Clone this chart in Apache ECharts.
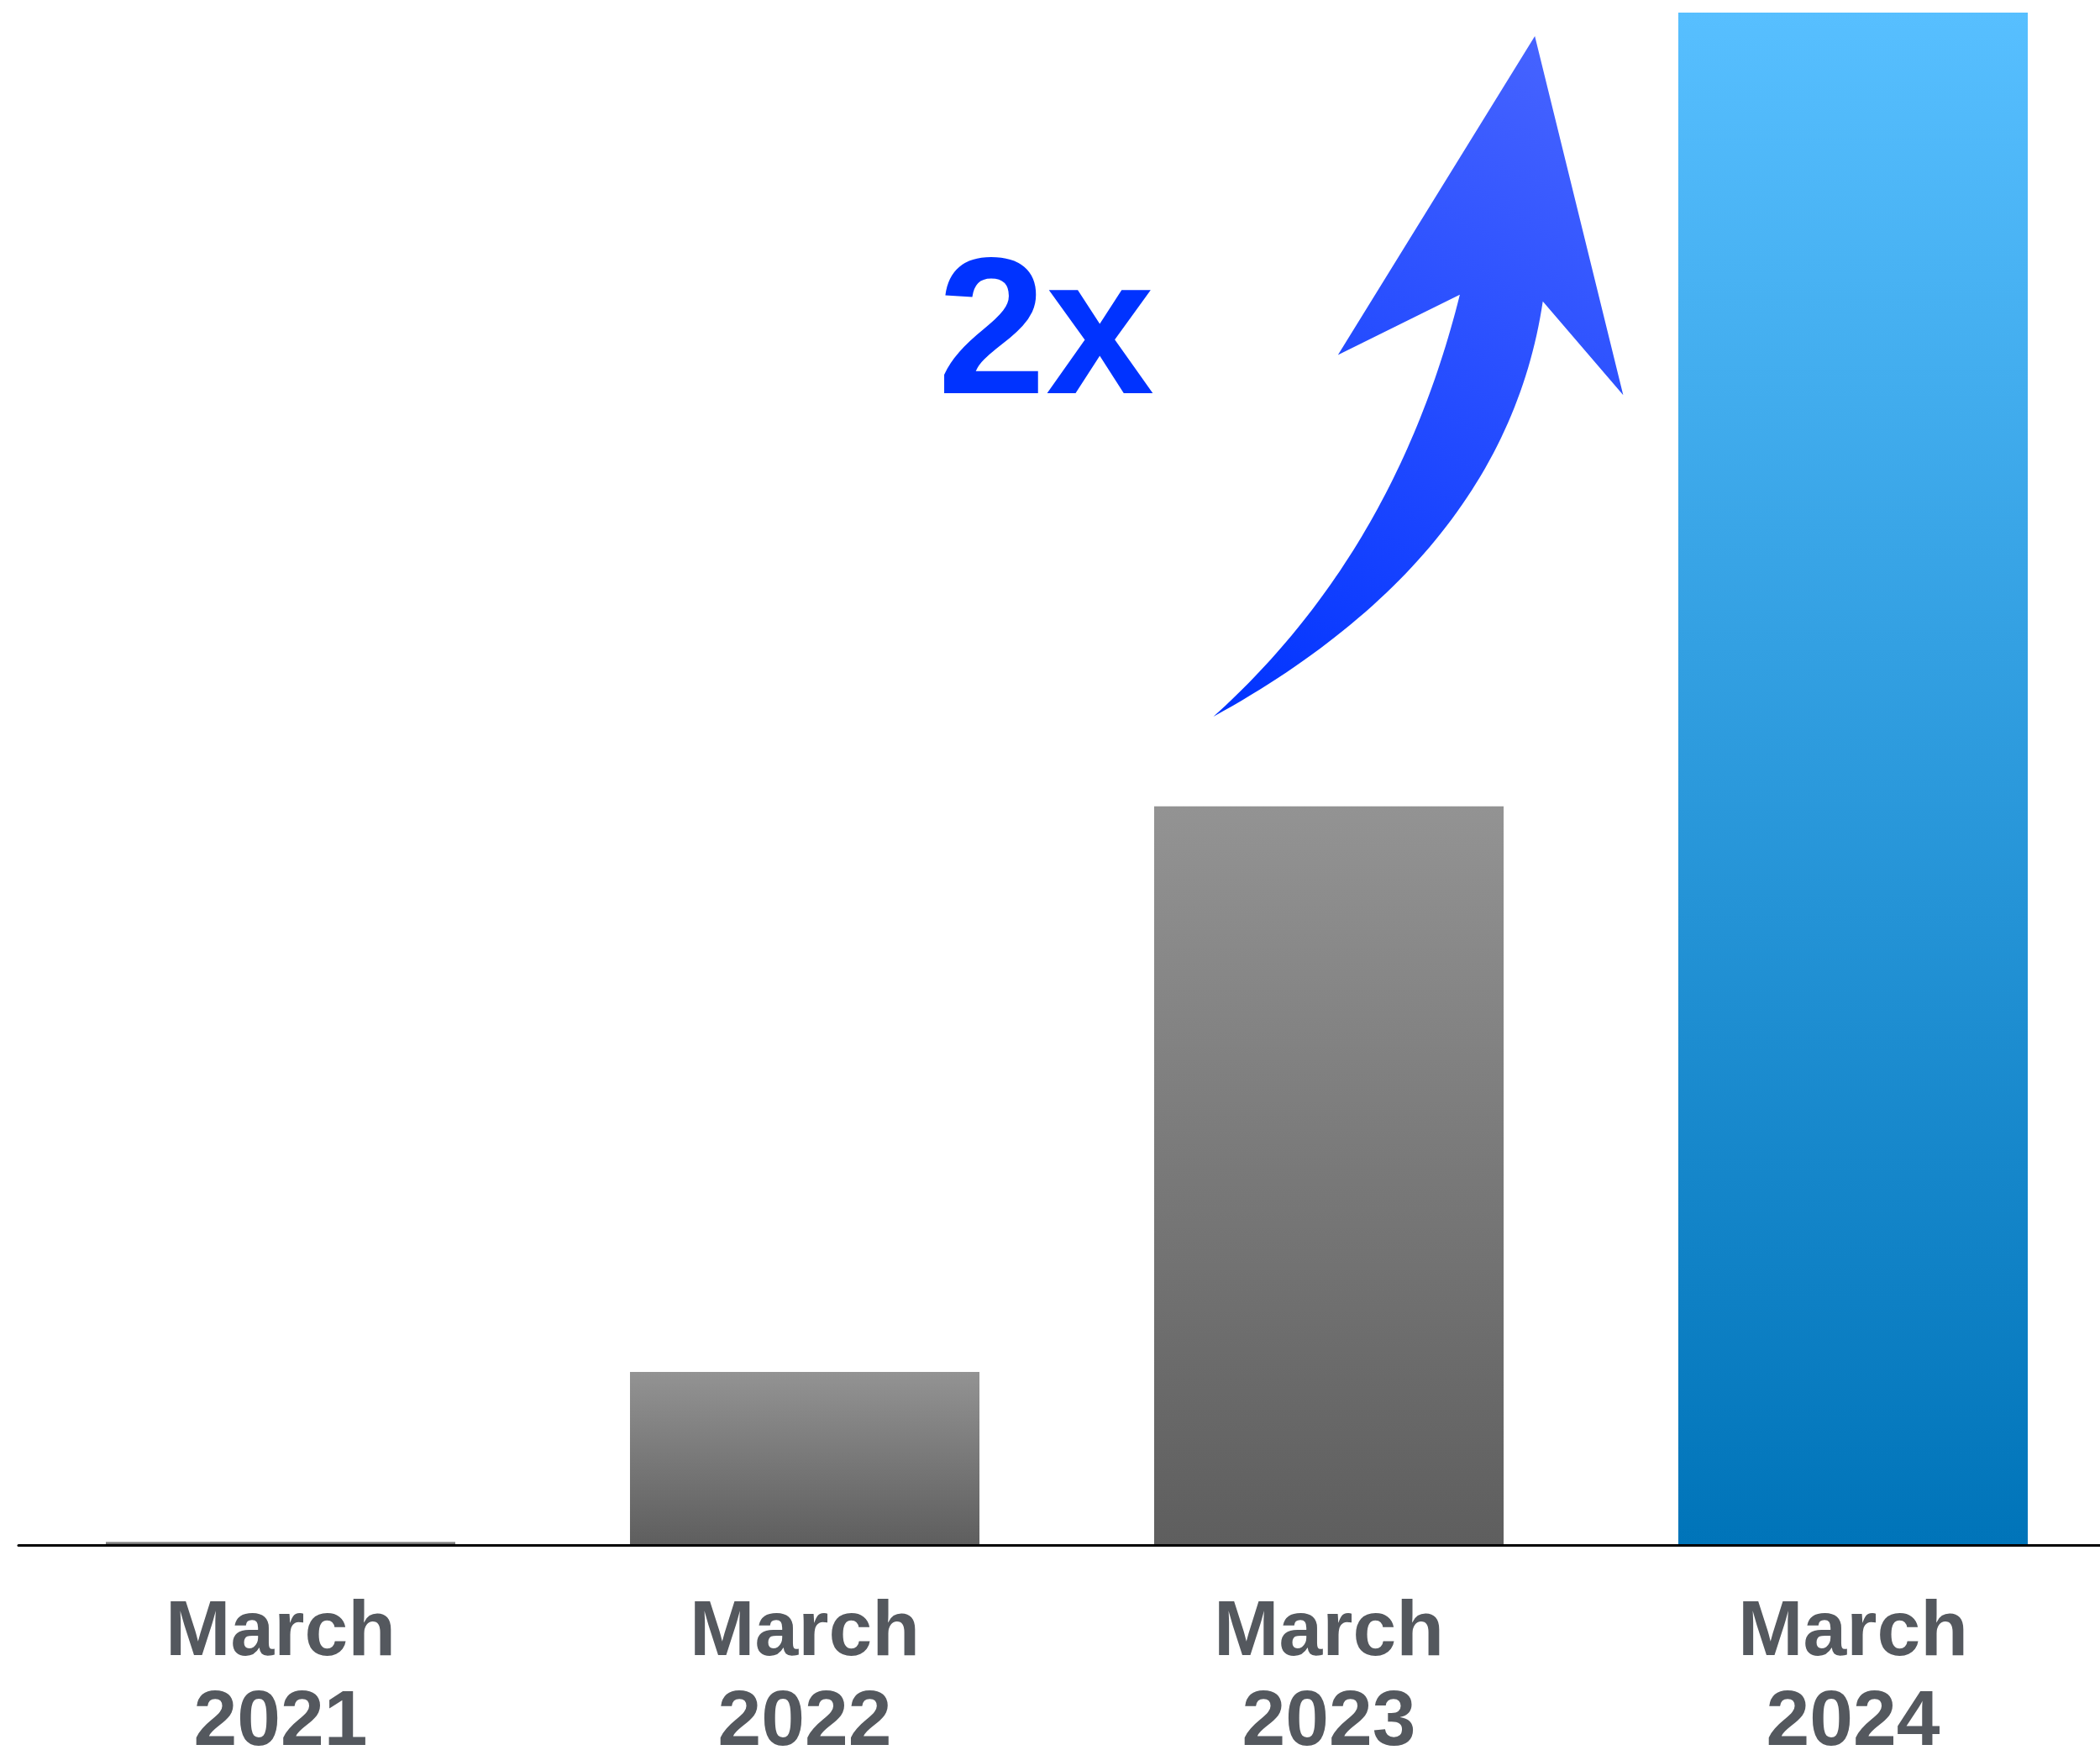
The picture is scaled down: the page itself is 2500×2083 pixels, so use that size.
<!DOCTYPE html>
<html>
<head>
<meta charset="utf-8">
<script src="https://cdn.jsdelivr.net/npm/echarts@6/dist/echarts.min.js"></script>
<style>
  html, body { margin: 0; padding: 0; background: #ffffff; overflow: hidden; }
  #chart { width: 2500px; height: 2083px; }
</style>
</head>
<body>
<div id="chart"></div>
<script>
// ---- data ----
const months = ['March', 'March', 'March', 'March'];
const years = ['2021', '2022', '2023', '2024'];
const values = [0.2, 11.3, 48.2, 100];
const highlightIndex = 3;
const annotationText = '2x';

const categories = months.map((m, i) => m + '\n' + years[i]);

function linear(x, y, x2, y2, c0, c1) {
  return { type: 'linear', x: x, y: y, x2: x2, y2: y2, global: false,
    colorStops: [{ offset: 0, color: c0 }, { offset: 1, color: c1 }] };
}
const grayGradient = linear(0, 0, 0, 1, '#939393', '#5e5e5e');
const blueGradient = linear(0, 0, 0, 1, '#57bfff', '#0074b9');
const arrowGradient = linear(1, 0, 0, 1, '#4a66ff', '#0033ff');

// decorative curved arrow outline (quadratic curves sampled into a polygon)
function quad(p0, c, p2, n) {
  const pts = [];
  for (let i = 0; i <= n; i++) {
    const t = i / n, u = 1 - t;
    pts.push([u * u * p0[0] + 2 * u * t * c[0] + t * t * p2[0],
              u * u * p0[1] + 2 * u * t * c[1] + t * t * p2[1]]);
  }
  return pts;
}
const arrowPts = []
  .concat(quad([1444.5, 853], [1791.2, 662.3], [1836.7, 358.7], 60))
  .concat([[1932.4, 470.3], [1827.2, 43], [1592.8, 422.5]])
  .concat(quad([1737.9, 350.8], [1661, 658.2], [1444.5, 853], 60));

const chart = echarts.init(document.getElementById('chart'), null, { renderer: 'canvas' });
chart.setOption({
  animation: false,
  backgroundColor: '#ffffff',
  grid: { left: 22, right: -18, top: 15, bottom: 244, containLabel: false, outerBoundsMode: 'none' },
  xAxis: {
    type: 'category',
    data: categories,
    axisLine: { show: true, lineStyle: { color: '#000000', width: 3 } },
    axisTick: { show: false },
    axisLabel: {
      margin: 52,
      color: '#54585e',
      fontFamily: '"Liberation Sans", Arial, sans-serif',
      fontWeight: 'bold',
      fontSize: 93,
      lineHeight: 107,
      interval: 0
    },
    z: 5
  },
  yAxis: {
    type: 'value',
    min: 0,
    max: 100,
    show: false,
    splitLine: { show: false }
  },
  series: [{
    type: 'bar',
    data: values,
    barCategoryGap: '33.33%',
    itemStyle: {
      color: function (p) { return p.dataIndex === highlightIndex ? blueGradient : grayGradient; }
    }
  }],
  graphic: [
    {
      type: 'polygon',
      z: 10,
      shape: { points: arrowPts },
      style: { fill: arrowGradient }
    },
    {
      type: 'text',
      z: 10,
      x: 1116,
      y: 520,
      style: {
        text: annotationText,
        font: 'bold 232px "Liberation Sans", Arial, sans-serif',
        fill: '#0033ff',
        verticalAlign: 'bottom'
      }
    }
  ]
});
</script>
</body>
</html>
